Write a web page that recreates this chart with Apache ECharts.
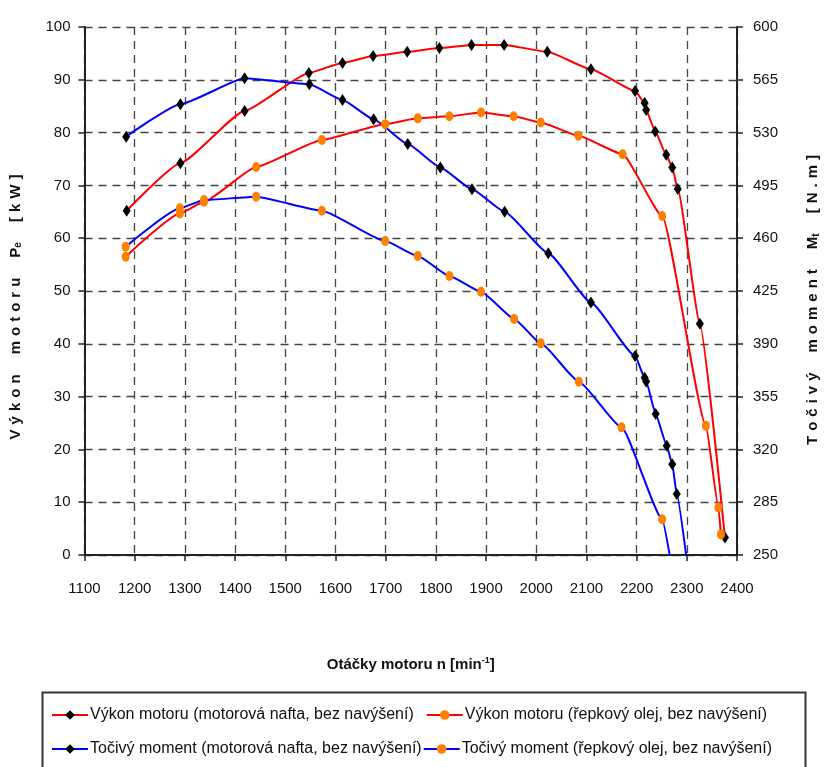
<!DOCTYPE html>
<html>
<head>
<meta charset="utf-8">
<script src="https://cdn.jsdelivr.net/npm/echarts@6/dist/echarts.min.js"></script>
<style>
html,body{margin:0;padding:0;background:#fff;}
#chart{width:829px;height:767px;}
</style>
</head>
<body>
<div id="chart"></div>
<script>
// ---- data ----
const seriesNames = [
  'Výkon motoru (motorová nafta, bez navýšení)',
  'Výkon motoru (řepkový olej, bez navýšení)',
  'Točivý moment (motorová nafta, bez navýšení)',
  'Točivý moment (řepkový olej, bez navýšení)'
];
const xTicks = [1100, 2400, 100];
const powerTicks = [0, 100, 10];
const torqueTicks = [250, 600, 35];

const dieselPowerRpm = [1184, 1291, 1419, 1547, 1614, 1675, 1743, 1807, 1871, 1936, 2022, 2109, 2197, 2216, 2219, 2237, 2259, 2271, 2282, 2326, 2376];
const dieselPowerKw  = [65.2, 74.2, 84.1, 91.3, 93.2, 94.5, 95.3, 96.0, 96.6, 96.6, 95.3, 92.0, 87.9, 85.6, 84.3, 80.2, 75.8, 73.4, 69.3, 43.8, 3.3];

const rapePowerRpm = [1182, 1290, 1338, 1442, 1573, 1699, 1764, 1827, 1890, 1955, 2009, 2084, 2172, 2251, 2338, 2363, 2368];
const rapePowerKw  = [56.5, 64.7, 66.9, 73.5, 78.6, 81.6, 82.7, 83.1, 83.8, 83.1, 81.9, 79.4, 75.9, 64.2, 24.5, 9.0, 3.9];

const dieselTorqueRpm = [1183, 1291, 1419, 1548, 1614, 1676, 1744, 1809, 1872, 1937, 2024, 2109, 2197, 2216, 2219, 2238, 2260, 2271, 2280];
const dieselTorqueNm  = [527.3, 548.8, 566.0, 562.0, 551.6, 538.8, 522.4, 506.9, 492.4, 477.6, 450.0, 417.3, 381.9, 367.5, 365.0, 343.5, 322.5, 310.1, 290.4];
const dieselTorqueTail = [2300, 246.5];   // curve continues below the axis (no marker)

const rapeTorqueRpm = [1182, 1290, 1338, 1442, 1573, 1699, 1764, 1827, 1890, 1956, 2009, 2085, 2170, 2251];
const rapeTorqueNm  = [454.4, 479.8, 485.3, 487.5, 478.2, 458.1, 448.2, 434.9, 424.5, 406.5, 390.3, 364.9, 334.6, 273.7];
const rapeTorqueTail = [2268, 246.0];

// ---- helpers ----
function pairs(xs, ys) { return xs.map((x, i) => [x, ys[i]]); }
function withTail(data, tail) { return data.concat([{ value: tail, symbol: 'none' }]); }
function spaced(s) { return s.split('').join('\u2004'); }
const WG = '\u2002\u2002\u2004';

const RED = '#ff0000', BLUE = '#0000ff', BLACK = '#000000', ORANGE = '#ff8000';
const FONT = 'Liberation Sans, Arial, sans-serif';

function mkSeries(name, data, lineColor, markColor, diamond, yIdx) {
  return {
    name: name, type: 'line', yAxisIndex: yIdx, data: data,
    smooth: 0.15, smoothMonotone: 'x', clip: true,
    symbol: diamond ? 'diamond' : 'circle',
    symbolSize: diamond ? [8, 12] : [8, 10],
    lineStyle: { color: lineColor, width: 2 },
    itemStyle: { color: markColor, borderWidth: 0 },
    emphasis: { disabled: true },
    z: diamond ? 3 : 4
  };
}

const gridLine = { show: true, lineStyle: { color: '#444', width: 1.3, type: [8, 6] } };
const axisLine = { show: true, lineStyle: { color: '#222', width: 2 } };
const tickStyle = { show: true, length: 6, lineStyle: { color: '#222', width: 1.5 } };
const labelStyle = { color: '#111', fontSize: 15, fontFamily: FONT, formatter: v => String(v) };
const subRich = { sub: { fontSize: 10, fontWeight: 'bold', fontFamily: FONT, color: '#111', padding: [6, 0, 0, 0] } };

const option = {
  animation: false,
  backgroundColor: '#fff',
  grid: { left: 84, right: 92, top: 27, bottom: 212, containLabel: false },
  xAxis: {
    type: 'value', min: xTicks[0], max: xTicks[1], interval: xTicks[2],
    name: 'Otáčky motoru n [min{sup|-1}]',
    nameLocation: 'middle', nameGap: 101,
    nameTextStyle: { color: '#111', fontSize: 15, fontWeight: 'bold', fontFamily: FONT,
      rich: { sup: { fontSize: 9, fontWeight: 'bold', verticalAlign: 'top', padding: [0, 0, 8, 0], fontFamily: FONT, color: '#111' } } },
    axisLine: axisLine, axisTick: tickStyle,
    axisLabel: Object.assign({ margin: 26 }, labelStyle),
    splitLine: gridLine
  },
  yAxis: [
    {
      type: 'value', min: powerTicks[0], max: powerTicks[1], interval: powerTicks[2],
      position: 'left',
      name: spaced('Výkon') + WG + spaced('motoru') + WG + 'P{sub|e}' + WG + spaced('[kW]'),
      nameLocation: 'middle', nameGap: 61, nameRotate: 90,
      nameTextStyle: { color: '#111', fontSize: 15, fontWeight: 'bold', fontFamily: FONT,
        padding: [0, 32, 0, 0], rich: subRich },
      axisLine: axisLine, axisTick: tickStyle,
      axisLabel: Object.assign({ margin: 14 }, labelStyle),
      splitLine: gridLine
    },
    {
      type: 'value', min: torqueTicks[0], max: torqueTicks[1], interval: torqueTicks[2],
      position: 'right',
      name: spaced('Točivý') + WG + spaced('moment') + WG + 'M{sub|t}' + WG + spaced('[N.m]'),
      nameLocation: 'middle', nameGap: 68, nameRotate: 90,
      nameTextStyle: { color: '#111', fontSize: 15, fontWeight: 'bold', fontFamily: FONT,
        padding: [0, 18, 0, 0], rich: subRich },
      axisLine: axisLine, axisTick: tickStyle,
      axisLabel: Object.assign({ margin: 16 }, labelStyle),
      splitLine: { show: false }
    }
  ],
  legend: [
    { data: [seriesNames[0], seriesNames[1]], left: 46, top: 702, itemWidth: 36, itemHeight: 12, itemGap: 12,
      textStyle: { color: '#111', fontSize: 16, fontFamily: FONT, padding: [0, 0, 0, -3] }, selectedMode: false },
    { data: [seriesNames[2], seriesNames[3]], left: 46, top: 736, itemWidth: 36, itemHeight: 12, itemGap: 1,
      textStyle: { color: '#111', fontSize: 16, fontFamily: FONT, padding: [0, 0, 0, -3] }, selectedMode: false }
  ],
  graphic: [
    { type: 'rect', left: 40, top: 690, shape: { width: 763, height: 100 },
      style: { fill: 'none', stroke: '#333', lineWidth: 2 }, z: -1 }
  ],
  series: [
    mkSeries(seriesNames[0], pairs(dieselPowerRpm, dieselPowerKw), RED, BLACK, true, 0),
    mkSeries(seriesNames[1], pairs(rapePowerRpm, rapePowerKw), RED, ORANGE, false, 0),
    mkSeries(seriesNames[2], withTail(pairs(dieselTorqueRpm, dieselTorqueNm), dieselTorqueTail), BLUE, BLACK, true, 1),
    mkSeries(seriesNames[3], withTail(pairs(rapeTorqueRpm, rapeTorqueNm), rapeTorqueTail), BLUE, ORANGE, false, 1)
  ]
};

const chart = echarts.init(document.getElementById('chart'), null, { renderer: 'canvas' });
chart.setOption(option);
</script>
</body>
</html>
